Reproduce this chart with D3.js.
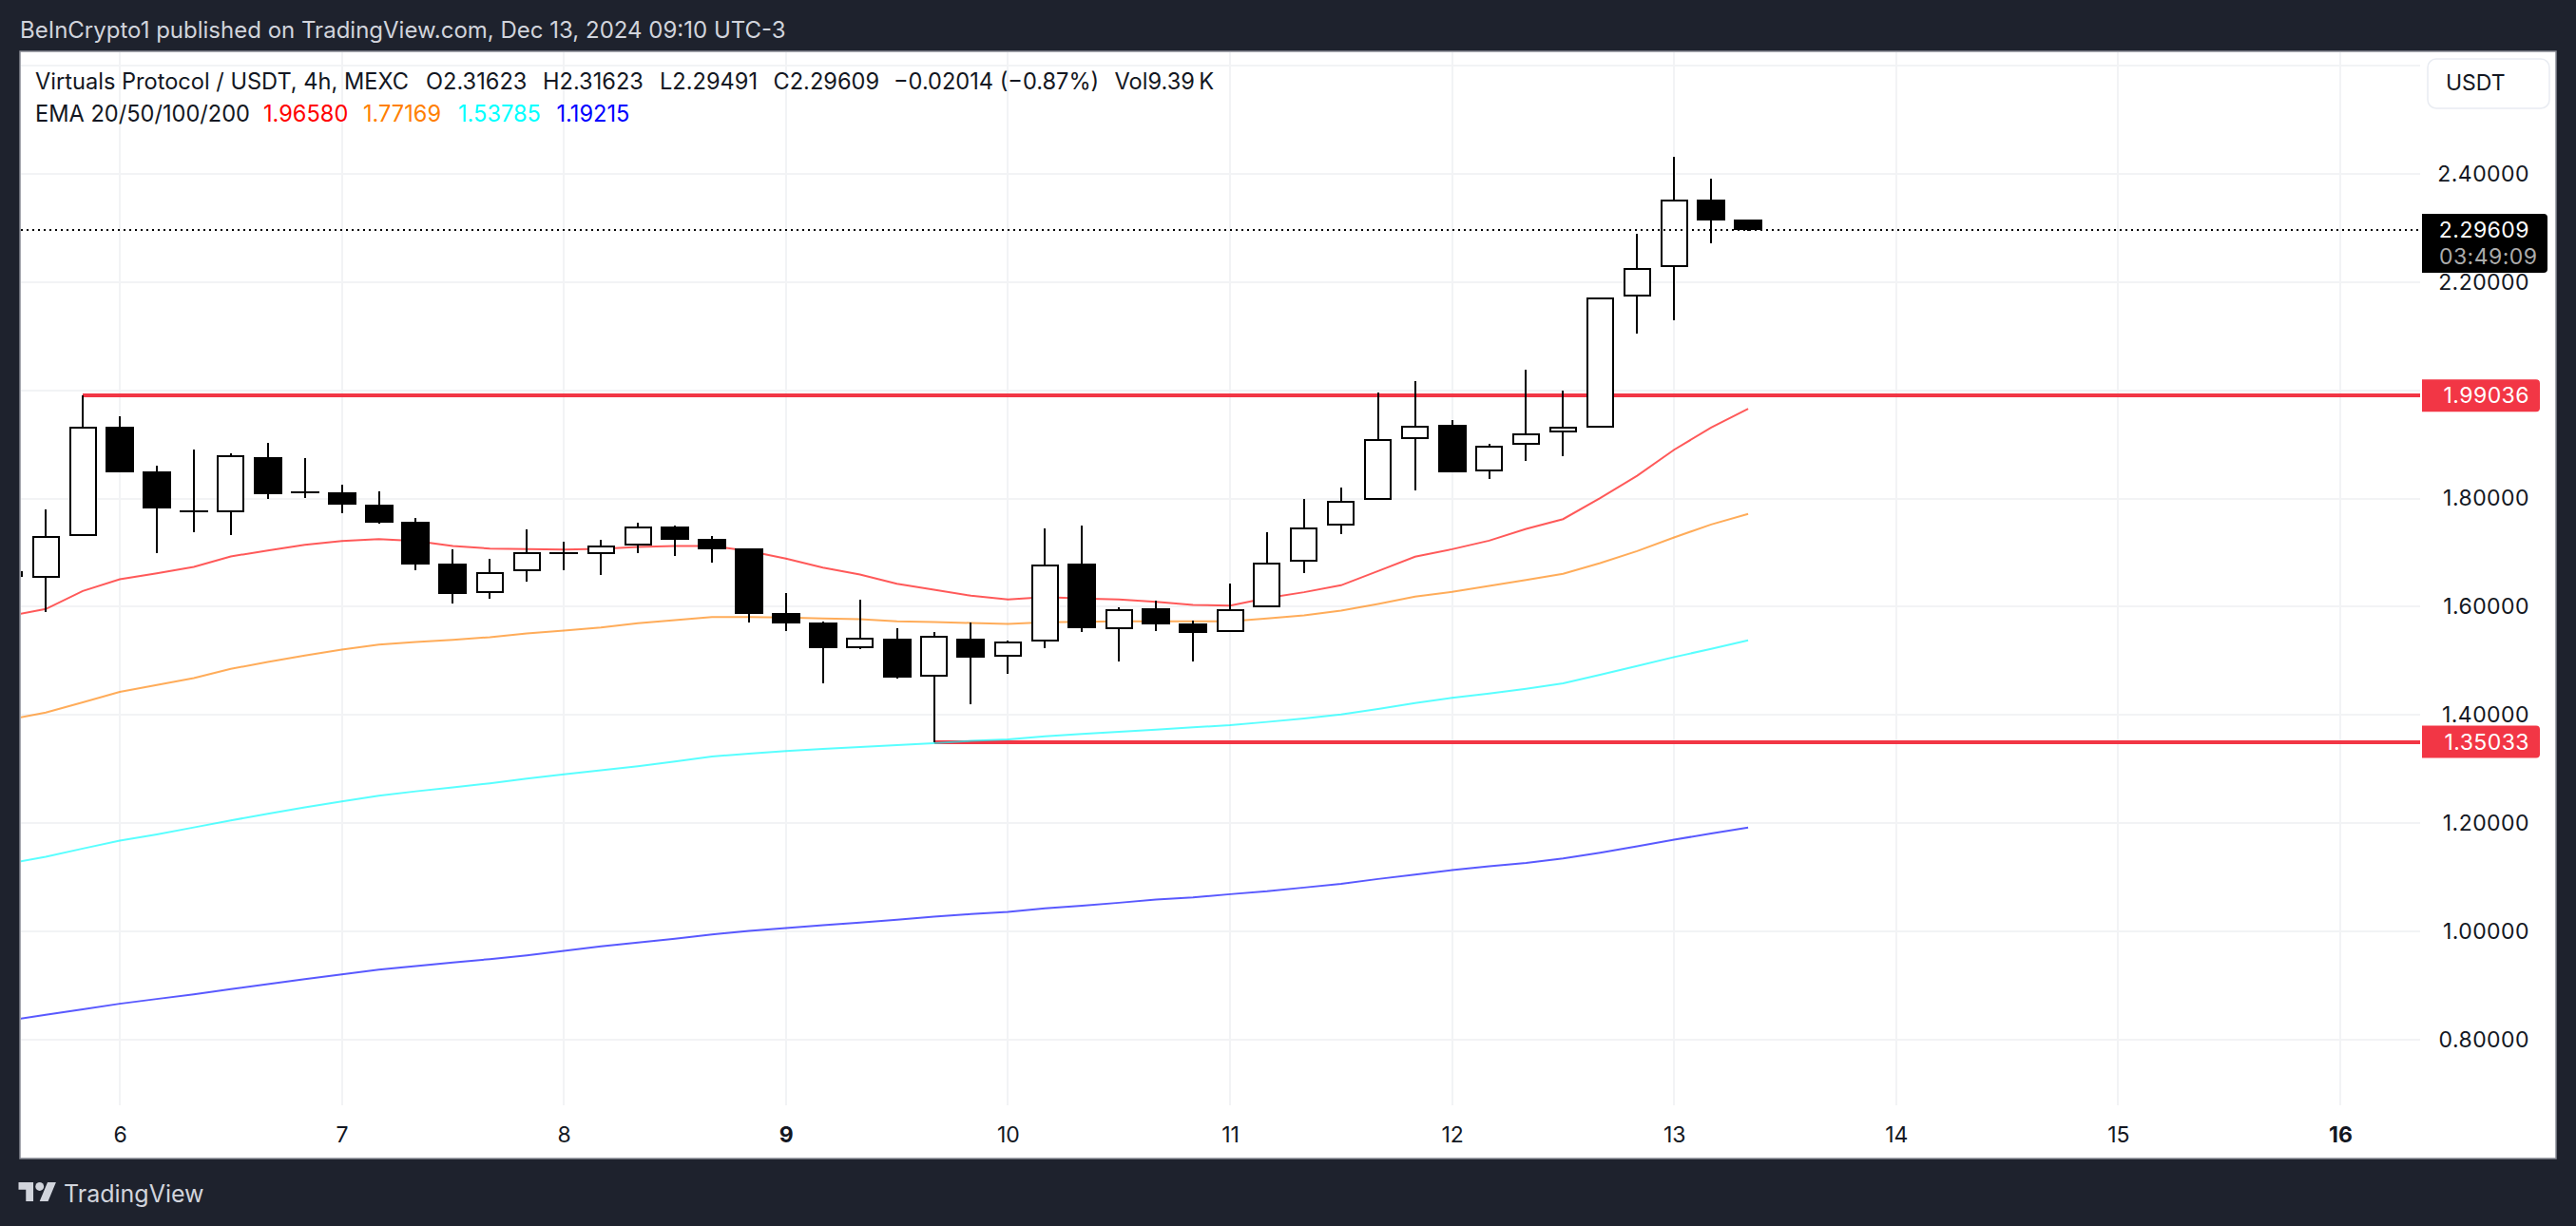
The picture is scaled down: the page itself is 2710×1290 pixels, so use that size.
<!DOCTYPE html>
<html>
<head>
<meta charset="utf-8">
<script src="https://cdnjs.cloudflare.com/ajax/libs/d3/7.8.5/d3.min.js"></script>
<style>
  html, body { margin: 0; padding: 0; background: #1e222d; }
  svg { display: block; }
  text { font-family: Inter, "Noto Sans", sans-serif; font-size: 23px; fill: #131722; }
  .price text, text.price { letter-spacing: 0.45px; }
  .legend { font-size: 23.6px; }
  .crisp { shape-rendering: crispEdges; }
</style>
</head>
<body>
<svg width="2710" height="1290"></svg>
<script>
// 4h candles, first one is Dec 5 12:00 (cut off by the left edge)
var opens  = [1.665,1.6532,1.7310,1.9322,1.8503,1.7785,1.7743,1.8766,1.8135,1.8117,1.7889,1.7573,1.6801,1.6245,1.6666,1.7011,1.6982,1.7128,1.7485,1.7257,1.7082,1.5888,1.5713,1.5233,1.5414,1.4707,1.5414,1.5069,1.5356,1.6801,1.5584,1.5976,1.5695,1.5526,1.5994,1.6836,1.7497,1.7977,1.9094,1.9363,1.8503,1.8994,1.9217,1.9310,2.1729,2.2273,2.3524,2.31623];
var highs  = [1.666,1.7801,1.9904,1.9515,1.8608,1.8901,1.8831,1.9030,1.8749,1.8257,1.8135,1.7643,1.7064,1.6889,1.7433,1.7205,1.7240,1.7555,1.7503,1.7310,1.7082,1.6257,1.5730,1.6134,1.5607,1.5537,1.5713,1.5379,1.7450,1.7503,1.5994,1.6116,1.5742,1.6432,1.7380,1.7994,1.8205,1.9960,2.0170,1.9451,1.9012,2.0381,1.9995,2.1723,2.2893,2.4314,2.3911,2.31623];
var lows   = [1.655,1.5894,1.7310,1.8480,1.7000,1.7380,1.7333,1.8000,1.8012,1.7731,1.7544,1.6678,1.6064,1.6152,1.6467,1.6678,1.6590,1.6994,1.6941,1.6818,1.5713,1.5555,1.4590,1.5210,1.4677,1.35033,1.4204,1.4765,1.5239,1.5537,1.4991,1.5555,1.4991,1.5526,1.5994,1.6631,1.7351,1.7977,1.8152,1.8491,1.8363,1.8696,1.8784,1.9310,2.1056,2.1301,2.2717,2.29491];
var closes = [1.656,1.7304,1.9322,1.8492,1.7825,1.7755,1.8796,1.8082,1.8105,1.7889,1.7556,1.6783,1.6239,1.6637,1.7006,1.6982,1.7128,1.7479,1.7240,1.7064,1.5871,1.5695,1.5239,1.5420,1.4695,1.5455,1.5063,1.5356,1.6789,1.5607,1.5964,1.5678,1.5520,1.5964,1.6824,1.7474,1.7965,1.9106,1.9351,1.8491,1.8983,1.9211,1.9334,2.1723,2.2267,2.3530,2.3144,2.29609];

var ema20  = [1.5830,1.5958,1.6292,1.6508,1.6620,1.6737,1.6930,1.7041,1.7146,1.7216,1.7251,1.7216,1.7123,1.7076,1.7064,1.7058,1.7070,1.7105,1.7123,1.7123,1.7029,1.6889,1.6725,1.6596,1.6426,1.6315,1.6204,1.6134,1.6181,1.6152,1.6134,1.6093,1.6035,1.6023,1.6163,1.6269,1.6397,1.6660,1.6924,1.7064,1.7222,1.7438,1.7620,1.8006,1.8421,1.8901,1.9310,1.9658];
var ema50  = [1.3917,1.4045,1.4233,1.4426,1.4554,1.4683,1.4853,1.4981,1.5098,1.5210,1.5303,1.5350,1.5391,1.5438,1.5508,1.5561,1.5619,1.5695,1.5754,1.5812,1.5812,1.5801,1.5783,1.5771,1.5730,1.5719,1.5701,1.5684,1.5713,1.5724,1.5730,1.5730,1.5730,1.5730,1.5783,1.5841,1.5929,1.6052,1.6187,1.6274,1.6385,1.6497,1.6608,1.6807,1.7029,1.7281,1.7520,1.77169];
var ema100 = [1.1257,1.1379,1.1532,1.1678,1.1795,1.1923,1.2052,1.2175,1.2292,1.2403,1.2508,1.2590,1.2661,1.2737,1.2824,1.2906,1.2977,1.3053,1.3140,1.3234,1.3287,1.3333,1.3374,1.3409,1.3444,1.3480,1.3521,1.3550,1.3608,1.3649,1.3690,1.3731,1.3772,1.3813,1.3872,1.3936,1.4012,1.4111,1.4223,1.4316,1.4398,1.4486,1.4585,1.4743,1.4907,1.5071,1.5223,1.53785];
var ema200 = [0.8355,0.8460,0.8560,0.8665,0.8753,0.8840,0.8934,0.9028,0.9121,0.9209,0.9297,0.9361,0.9426,0.9490,0.9560,0.9642,0.9724,0.9794,0.9864,0.9946,1.0011,1.0063,1.0116,1.0163,1.0215,1.0274,1.0321,1.0361,1.0426,1.0478,1.0531,1.0590,1.0631,1.0689,1.0742,1.0812,1.0882,1.0970,1.1052,1.1134,1.1204,1.1268,1.1350,1.1456,1.1572,1.1695,1.1812,1.19215];
var emaColors = ["#ff0000", "#ff7f00", "#00ffff", "#0000ff"];

var priceTicks = [0.8, 1.0, 1.2, 1.4, 1.6, 1.8, 2.0, 2.2, 2.4, 2.6];
var priceLabels = [0.8, 1.0, 1.2, 1.4, 1.6, 1.8, 2.2, 2.4]; // 2.00000 sits under the red tag
var dayTicks = [6, 7, 8, 9, 10, 11, 12, 13, 14, 15, 16];
var boldDays = [9, 16];

var lastPrice = 2.29609;
var countdown = "03:49:09";
var levelPrices = [1.99036, 1.35033];
var levelStarts = [2, 25]; // candle index where each drawn line begins

var legendRow1 = ["Virtuals Protocol / USDT, 4h, MEXC", "O2.31623", "H2.31623", "L2.29491", "C2.29609", "\u22120.02014 (\u22120.87%)", "Vol9.39\u2009K"];
var legendRow1X = [37, 448, 571, 694, 813.5, 940, 1172.5];
var legendRow2 = ["EMA 20/50/100/200", "1.96580", "1.77169", "1.53785", "1.19215"];
var legendRow2X = [37, 277, 382, 482, 585.5];

var svg = d3.select("svg");

var panelLeft = 21, panelTop = 54, panelRight = 2689, panelBottom = 1219;
var plotRight = 2546, plotBottom = 1163;

function dayDate(d) { return new Date(Date.UTC(2024, 11, d)); }
function candleTime(i) { return new Date(Date.UTC(2024, 11, 5, 12 + i * 4)); }

var x = d3.scaleUtc().domain([dayDate(6), dayDate(16)]).range([126, 2462]);
var y = d3.scaleLinear().domain([0.8, 2.4]).range([1094, 182.9]);

// frame
svg.append("rect")
    .attr("x", panelLeft).attr("y", panelTop)
    .attr("width", panelRight - panelLeft).attr("height", panelBottom - panelTop)
    .attr("fill", "#fff").attr("stroke", "#868993").attr("stroke-width", 1.5);

svg.append("text").attr("x", 21).attr("y", 32).attr("dy", "0.35em")
    .style("fill", "#d1d4dc").style("font-size", "24px")
    .text("BeInCrypto1 published on TradingView.com, Dec 13, 2024 09:10 UTC-3");

svg.append("defs").append("clipPath").attr("id", "plot")
    .append("rect").attr("x", panelLeft + 1).attr("y", panelTop + 1)
    .attr("width", plotRight - panelLeft - 1).attr("height", plotBottom - panelTop - 1);

var plot = svg.append("g").attr("clip-path", "url(#plot)");

// grid
plot.selectAll(".hgrid").data(priceTicks).enter().append("line")
    .attr("class", "crisp")
    .attr("x1", panelLeft).attr("x2", plotRight)
    .attr("y1", function(d) { return y(d); }).attr("y2", function(d) { return y(d); })
    .attr("stroke", "#f2f3f5").attr("stroke-width", 2);

plot.selectAll(".vgrid").data(dayTicks).enter().append("line")
    .attr("class", "crisp")
    .attr("x1", function(d) { return x(dayDate(d)); }).attr("x2", function(d) { return x(dayDate(d)); })
    .attr("y1", panelTop).attr("y2", plotBottom)
    .attr("stroke", "#f2f3f5").attr("stroke-width", 2);

// support / resistance
plot.selectAll(".level").data(levelPrices).enter().append("line")
    .attr("class", "crisp")
    .attr("x1", function(d, i) { return x(candleTime(levelStarts[i])); })
    .attr("x2", plotRight)
    .attr("y1", function(d) { return y(d); }).attr("y2", function(d) { return y(d); })
    .attr("stroke", "#f23645").attr("stroke-width", 4);

// EMAs
var emaLine = d3.line()
    .x(function(d, i) { return x(candleTime(i)); })
    .y(function(d) { return y(d); });

[ema20, ema50, ema100, ema200].forEach(function(series, i) {
    plot.append("path")
        .attr("d", emaLine(series))
        .attr("fill", "none")
        .attr("stroke", emaColors[i])
        .attr("stroke-opacity", 0.65)
        .attr("stroke-width", 2);
});

// candles
var candles = plot.selectAll(".candle").data(opens).enter().append("g").attr("class", "candle crisp");

candles.append("line")
    .attr("x1", function(d, i) { return x(candleTime(i)); })
    .attr("x2", function(d, i) { return x(candleTime(i)); })
    .attr("y1", function(d, i) { return y(highs[i]); })
    .attr("y2", function(d, i) { return y(lows[i]); })
    .attr("stroke", "#000").attr("stroke-width", 2);

candles.append("rect")
    .attr("x", function(d, i) { return x(candleTime(i)) - (closes[i] >= opens[i] ? 13.5 : 15); })
    .attr("width", function(d, i) { return closes[i] >= opens[i] ? 27 : 30; })
    .attr("y", function(d, i) {
        var top = y(Math.max(opens[i], closes[i]));
        return closes[i] >= opens[i] ? top + 1 : top;
    })
    .attr("height", function(d, i) {
        var h = Math.abs(y(opens[i]) - y(closes[i]));
        return closes[i] >= opens[i] ? Math.max(h - 2, 0) : Math.max(h, 2);
    })
    .attr("fill", function(d, i) { return closes[i] >= opens[i] ? "#fff" : "#000"; })
    .attr("stroke", function(d, i) { return closes[i] >= opens[i] ? "#000" : "none"; })
    .attr("stroke-width", 2);

// last price line
plot.append("line")
    .attr("class", "crisp")
    .attr("x1", panelLeft + 1).attr("x2", plotRight)
    .attr("y1", y(lastPrice)).attr("y2", y(lastPrice))
    .attr("stroke", "#000").attr("stroke-width", 2).attr("stroke-dasharray", "2 4");

// axes
var yAxis = d3.axisRight(y).tickValues(priceLabels).tickSize(0).tickFormat(d3.format(".5f"));
var yg = svg.append("g").attr("class", "price").attr("transform", "translate(" + plotRight + ",0)").call(yAxis);
yg.select(".domain").remove();
yg.selectAll("text").attr("x", 115).attr("text-anchor", "end");
yg.attr("font-family", null).attr("font-size", null);

var xAxis = d3.axisBottom(x).tickValues(dayTicks.map(dayDate)).tickSize(0)
    .tickFormat(function(d) { return d.getUTCDate(); });
var xg = svg.append("g").attr("transform", "translate(0," + plotBottom + ")").call(xAxis);
xg.select(".domain").remove();
xg.selectAll("text").attr("y", 31).attr("dy", "0.35em")
    .style("font-weight", function(d) { return boldDays.indexOf(d.getUTCDate()) >= 0 ? 700 : 400; });
xg.attr("font-family", null).attr("font-size", null);

// price tags
function tagPath(x0, y0, x1, y1, r) {
    return "M" + x0 + "," + y0 + "H" + (x1 - r) + "Q" + x1 + "," + y0 + " " + x1 + "," + (y0 + r) +
        "V" + (y1 - r) + "Q" + x1 + "," + y1 + " " + (x1 - r) + "," + y1 + "H" + x0 + "Z";
}

levelPrices.forEach(function(p) {
    var cy = y(p);
    svg.append("path").attr("d", tagPath(2548, cy - 17, 2672, cy + 17, 4)).attr("fill", "#f23645");
    svg.append("text").attr("class", "price").attr("x", 2661).attr("y", cy).attr("dy", "0.35em")
        .attr("text-anchor", "end").style("fill", "#fff").text(p.toFixed(5));
});

svg.append("path").attr("d", tagPath(2548, y(lastPrice) - 17, 2680, y(lastPrice) + 45, 4)).attr("fill", "#000");
svg.append("text").attr("class", "price").attr("x", 2661).attr("y", y(lastPrice)).attr("dy", "0.35em")
    .attr("text-anchor", "end").style("fill", "#fff").text(lastPrice.toFixed(5));
svg.append("text").attr("class", "price").attr("x", 2566).attr("y", y(lastPrice) + 28).attr("dy", "0.35em")
    .style("fill", "#ababab").text(countdown);

// currency button
svg.append("rect").attr("x", 2554).attr("y", 62).attr("width", 128).attr("height", 52).attr("rx", 9)
    .attr("fill", "#fff").attr("stroke", "#e9ecf2").attr("stroke-width", 1.5);
svg.append("text").attr("x", 2573).attr("y", 87).attr("dy", "0.35em").text("USDT");

// legend
legendRow1.forEach(function(s, i) {
    svg.append("text").attr("class", "legend").attr("x", legendRow1X[i]).attr("y", 86).attr("dy", "0.35em").text(s);
});
legendRow2.forEach(function(s, i) {
    svg.append("text").attr("class", "legend").attr("x", legendRow2X[i]).attr("y", 120).attr("dy", "0.35em")
        .style("fill", i == 0 ? "#131722" : emaColors[i - 1]).text(s);
});

// logo
var logo = svg.append("g").attr("transform", "translate(19.5,1239.6) scale(1.11)").attr("fill", "#d1d4dc");
logo.append("path").attr("d", "M14 22H7V11H0V4h14v18zM28 22h-8l7.5-18h8L28 22z");
logo.append("circle").attr("cx", 20).attr("cy", 8).attr("r", 4);
svg.append("text").attr("x", 67).attr("y", 1256).attr("dy", "0.35em").style("fill", "#d1d4dc").style("font-size", "25px").text("TradingView");
</script>
</body>
</html>
